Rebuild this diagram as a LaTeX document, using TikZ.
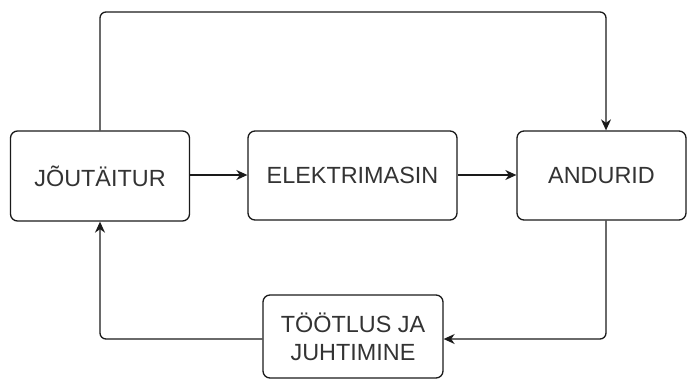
\documentclass[tikz,border=0pt]{standalone}
\usepackage{fontspec}
\setmainfont{Liberation Sans}
\usetikzlibrary{arrows.meta}
\definecolor{txt}{HTML}{333333}
\definecolor{ln}{HTML}{1A1A1A}
\begin{document}
\begin{tikzpicture}[x=1pt,y=1pt,
  blk/.style={draw=ln, line width=1.3pt, rounded corners=7pt, inner sep=0pt,
    align=center, text=txt, font=\fontsize{23.4}{28}\selectfont},
  conn/.style={draw=ln, line width=1.3pt, rounded corners=6pt},
  arr/.style={conn, -{Stealth[length=11pt,width=10pt,inset=3.5pt]}}]
\useasboundingbox (0,0) rectangle (687,381);
\node[blk, minimum width=179pt, minimum height=90pt] (J) at (100,205) {JÕUTÄITUR};
\node[blk, minimum width=209pt, minimum height=89pt] (E) at (352.5,205.5) {ELEKTRIMASIN};
\node[blk, minimum width=169pt, minimum height=89pt] (A) at (601.5,205.5) {ANDURID};
\node[blk, minimum width=180pt, minimum height=83pt] (T) at (353,44.5) {TÖÖTLUS JA\\JUHTIMINE};
\coordinate (top) at (606,369);
\draw[arr] (J.north) |- (top) -- (A.north -| top);
\draw[arr] (J.east |- 0,206) -- (E.west |- 0,206);
\draw[arr] (E.east |- 0,206) -- (A.west |- 0,206);
\draw[arr] (A.south -| top) |- ([yshift=-2.5pt]T.east);
\draw[arr] ([yshift=-2.5pt]T.west) -| (J.south);
\end{tikzpicture}
\end{document}
